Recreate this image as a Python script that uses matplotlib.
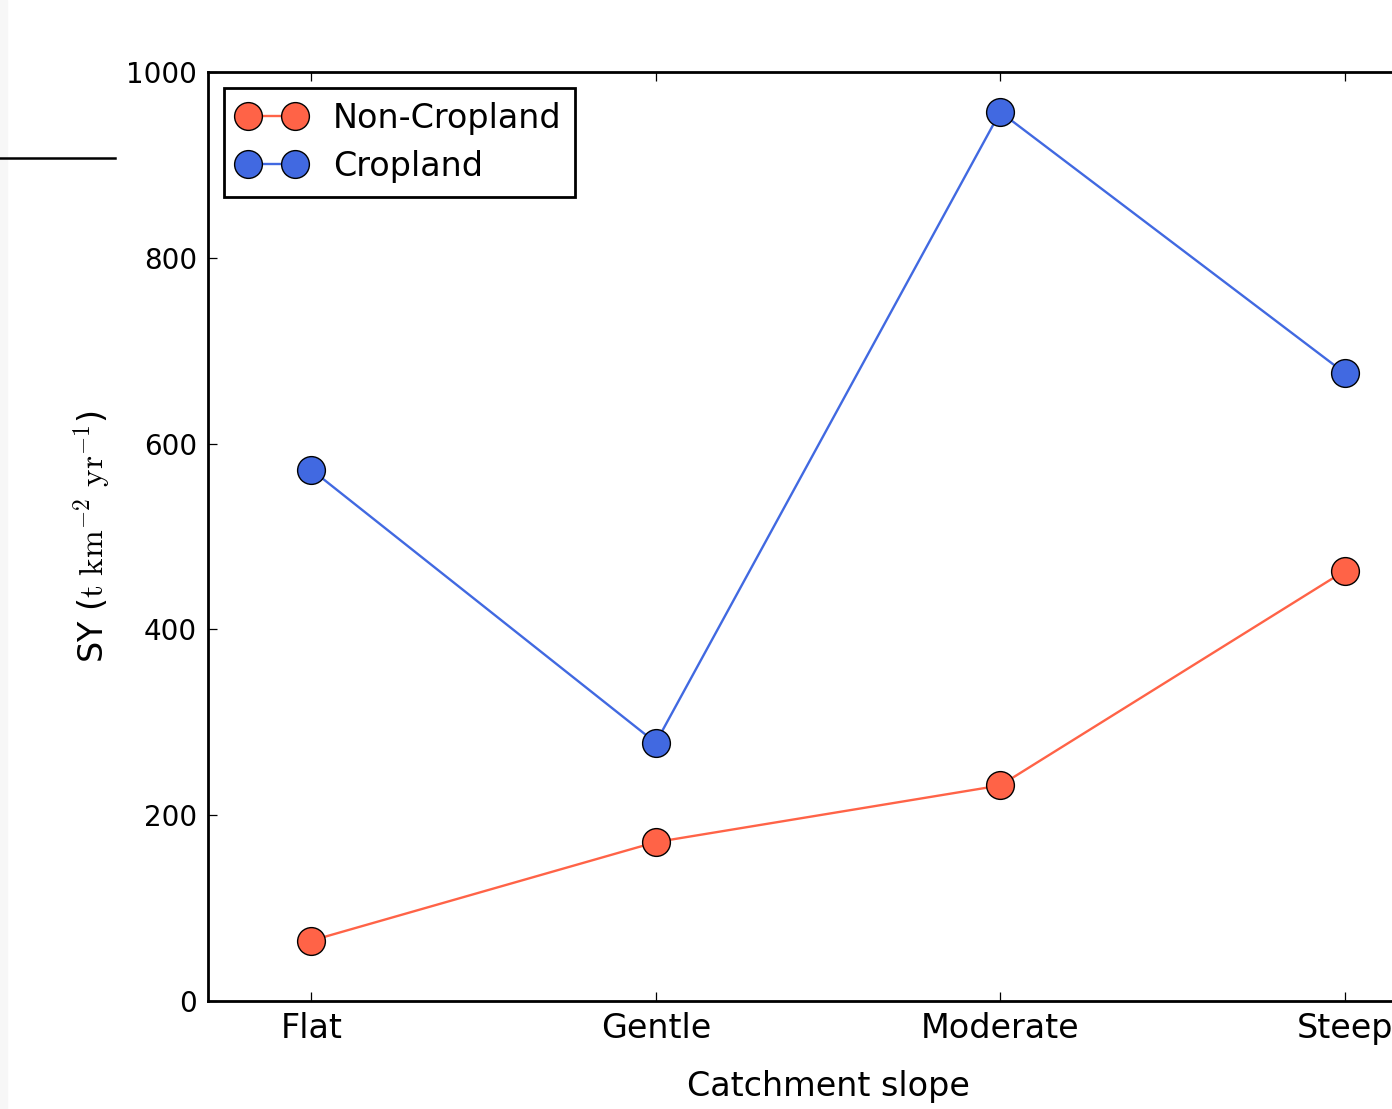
import matplotlib
matplotlib.use('Agg')
import matplotlib.pyplot as plt
from matplotlib.lines import Line2D
from matplotlib.patches import Rectangle

plt.rcParams['font.family'] = ['DejaVu Sans']
plt.rcParams['mathtext.fontset'] = 'cm'

# data
slopes = ['Flat', 'Gentle', 'Moderate', 'Steep']
non_cropland = [65, 171, 232, 463]
cropland = [572, 278, 957, 676]

fig = plt.figure(figsize=(13.92, 11.09), dpi=100)
# the reference is cropped on the right, so the axes run past the figure edge
ax = fig.add_axes([208 / 1392, 108 / 1109, 1240 / 1392, 929 / 1109])

x = range(len(slopes))
ax.plot(x, non_cropland, color='tomato', lw=1.7, marker='o', markersize=20,
        markerfacecolor='tomato', markeredgecolor='black', markeredgewidth=1.0,
        label='Non-Cropland')
ax.plot(x, cropland, color='royalblue', lw=1.7, marker='o', markersize=20,
        markerfacecolor='royalblue', markeredgecolor='black', markeredgewidth=1.0,
        label='Cropland')

ax.set_xlim(-0.3, 3.3)
ax.set_ylim(0, 1000)
ax.set_xticks(list(x))
ax.set_xticklabels(slopes, fontsize=24)
ax.set_yticks(range(0, 1001, 200))
ax.tick_params(axis='y', labelsize=20)
ax.tick_params(direction='in', length=6.5, width=0.9, top=True, right=True, pad=8)
ax.tick_params(axis='x', pad=8)
for sp in ax.spines.values():
    sp.set_linewidth(2.0)

ax.set_xlabel('Catchment slope', fontsize=24, labelpad=18)
ax.set_ylabel(r'SY ($\rm t\ km^{-2}\ yr^{-1}$)', fontsize=24, labelpad=10)

leg = ax.legend(loc='upper left', numpoints=2, fontsize=24, fancybox=False,
                framealpha=1, handlelength=2.0, borderaxespad=0.48,
                handletextpad=0.84, borderpad=0.42, labelspacing=0.45)
leg.get_frame().set_edgecolor('black')
leg.get_frame().set_linewidth(2.0)

# screenshot artifacts at the left edge
fig.patches.append(Rectangle((0, 0), 7 / 1392, 1, transform=fig.transFigure,
                             color='#f7f7f7', zorder=0))
fig.lines.append(Line2D([0, 115 / 1392], [1 - 158 / 1109, 1 - 158 / 1109],
                        transform=fig.transFigure, color='black', lw=1.8))

fig.savefig('out.png', dpi=100)
